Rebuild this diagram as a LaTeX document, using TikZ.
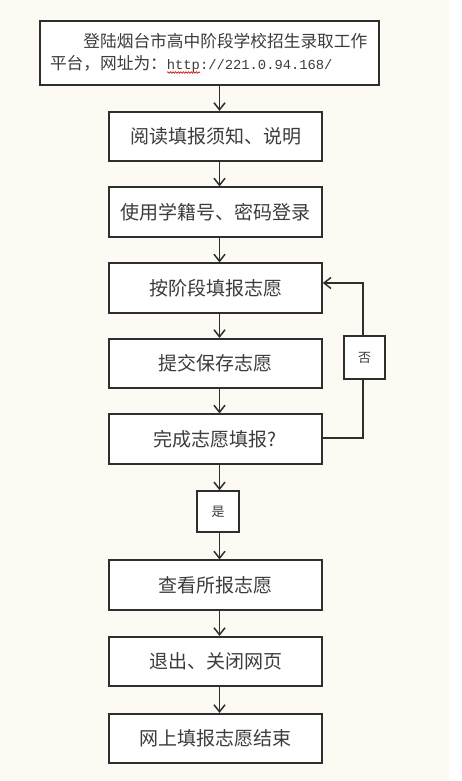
\documentclass[tikz,border=0pt]{standalone}
\usepackage{fontspec}
\setmainfont{Noto Sans CJK SC}
\newfontfamily\urlfont{Liberation Mono}
\usetikzlibrary{arrows.meta,decorations.pathmorphing}
\definecolor{cream}{HTML}{FDF9F3}
\definecolor{edge}{HTML}{2E2E2E}
\definecolor{txt}{HTML}{3C3C3C}
\begin{document}
\begin{tikzpicture}[x=1pt,y=-1pt,
  stepbox/.style={draw=edge,line width=1.6pt,fill=white,text=txt,
    minimum width=213pt,minimum height=49.5pt,inner sep=0pt,
    font=\fontsize{19}{22}\selectfont},
  tagbox/.style={draw=edge,line width=1.4pt,fill=white,text=txt,
    inner sep=0pt,font=\fontsize{13}{15}\selectfont},
  flow/.style={draw=edge,line width=1.5pt,-{Straight Barb[length=7pt,width=11pt,line width=1.5pt]}},
  plain/.style={draw=edge,line width=1.5pt}]
\useasboundingbox (0,0) rectangle (462,781);
\fill[white] (0,0) rectangle (462,781);
\fill[cream] (0,0) rectangle (449,781);

\node[draw=edge,line width=1.6pt,fill=white,text=txt,minimum width=339pt,minimum height=64pt,
  text width=319pt,align=left,inner xsep=10pt,inner ysep=0pt,
  font=\fontsize{16.7}{22}\selectfont] (top) at (209.5,53)
  {\hspace*{2em}登陆烟台市高中阶段学校招生录取工作\\平台，网址为：{\urlfont\fontsize{13.8}{22}\selectfont http://221.0.94.168/}};
\draw[red!80!black,line width=0.6pt,decorate,decoration={snake,amplitude=0.8pt,segment length=2.6pt}] (167,72.5) -- (200,72.5);

\node[stepbox] (b2) at (215.5,136.5) {阅读填报须知、说明};
\node[stepbox] (b3) at (215.5,212) {使用学籍号、密码登录};
\node[stepbox] (b4) at (215.5,288) {按阶段填报志愿};
\node[stepbox] (b5) at (215.5,363.5) {提交保存志愿};
\node[stepbox] (b6) at (215.5,439) {完成志愿填报?};
\node[stepbox] (b7) at (215.5,585) {查看所报志愿};
\node[stepbox] (b8) at (215.5,661.5) {退出、关闭网页};
\node[stepbox] (b9) at (215.5,738.5) {网上填报志愿结束};

\coordinate (ax) at (219.5,0);
\coordinate (loopx) at (363,0);

\draw[flow] (top.south -| ax) -- (b2.north -| ax);
\draw[flow] (b2.south -| ax) -- (b3.north -| ax);
\draw[flow] (b3.south -| ax) -- (b4.north -| ax);
\draw[flow] (b4.south -| ax) -- (b5.north -| ax);
\draw[flow] (b5.south -| ax) -- (b6.north -| ax);

\node[tagbox,minimum width=42pt,minimum height=41pt] (yes) at (218,511.5) {是};
\draw[flow] (b6.south -| ax) -- (yes.north -| ax);
\draw[flow] (yes.south -| ax) -- (b7.north -| ax);
\draw[flow] (b7.south -| ax) -- (b8.north -| ax);
\draw[flow] (b8.south -| ax) -- (b9.north -| ax);

\coordinate (lb) at ([yshift=1pt]b6.east);
\coordinate (lt) at ([yshift=5pt]b4.east);
\draw[flow] (lb) -- (lb -| loopx) -- (lt -| loopx) -- (lt);
\node[tagbox,minimum width=41pt,minimum height=43pt] (no) at (364.5,357.5) {否};
\end{tikzpicture}
\end{document}
